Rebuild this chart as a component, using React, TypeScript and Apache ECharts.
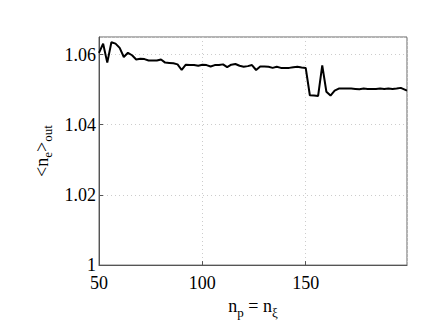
import React, { useEffect, useRef } from "react";
import * as echarts from "echarts";

const npValues = [
  50, 52, 54, 56, 58, 60, 62, 64, 66, 68, 70, 72, 74, 76, 78, 80, 82, 84, 86, 88,
  90, 92, 94, 96, 98, 100, 102, 104, 106, 108, 110, 112, 114, 116, 118, 120, 122, 124, 126, 128,
  130, 132, 134, 136, 138, 140, 142, 144, 146, 148, 150, 152, 154, 156, 158, 160, 162, 164, 166, 168,
  170, 172, 174, 176, 178, 180, 182, 184, 186, 188, 190, 192, 194, 196, 199,
];

const neOut = [
  1.0605, 1.0631, 1.0577, 1.0635, 1.0631, 1.0619, 1.0593, 1.0605, 1.0598, 1.0586,
  1.0588, 1.0587, 1.0583, 1.0583, 1.0583, 1.0586, 1.0577, 1.0576, 1.0575, 1.0572,
  1.0556, 1.0571, 1.057, 1.057, 1.0568, 1.0571, 1.057, 1.0566, 1.057, 1.057,
  1.0572, 1.0564, 1.0571, 1.0573, 1.0568, 1.0565, 1.0567, 1.057, 1.0556, 1.0566,
  1.0566, 1.0565, 1.0562, 1.0565, 1.0562, 1.0562, 1.0562, 1.0564, 1.0565, 1.0563,
  1.0562, 1.0484, 1.0483, 1.0482, 1.0569, 1.0494, 1.0483, 1.0497, 1.0503, 1.0503,
  1.0503, 1.0503, 1.0502, 1.0501, 1.0503, 1.0502, 1.0502, 1.0502, 1.0503, 1.0502,
  1.0503, 1.0502, 1.0503, 1.0505, 1.0497,
];

const xTicks = [50, 100, 150];
const yTicks = [1, 1.02, 1.04, 1.06];

const FONT = "'Liberation Serif', 'DejaVu Serif', serif";

export default function App() {
  const ref = useRef<HTMLDivElement>(null);
  useEffect(() => {
    if (!ref.current) return;
    const chart = echarts.init(ref.current, undefined, { renderer: "svg" });
    const data = npValues.map((x, i) => [x, neOut[i]]);
    chart.setOption({
      animation: false,
      backgroundColor: "#ffffff",
      textStyle: { fontFamily: FONT },
      grid: {
        left: 99,
        right: 25,
        top: 37,
        bottom: 57,
        show: true,
        borderColor: "#666666",
        borderWidth: 1,
        backgroundColor: "transparent",
      },
      xAxis: {
        type: "value",
        min: 50,
        max: 199,
        interval: 50,
        axisLine: { show: true, lineStyle: { color: "#555555", width: 1 } },
        axisTick: { show: true, inside: true, length: 4, lineStyle: { color: "#555555" } },
        axisLabel: {
          show: true,
          color: "#000",
          fontFamily: FONT,
          fontSize: 18,
          margin: 9,
          showMaxLabel: false,
          formatter: (v: number) => (xTicks.includes(v) ? String(v) : ""),
        },
        splitLine: { show: true, lineStyle: { color: "#cccccc", type: [1, 3], width: 1 } },
        name: "{n|n}{s|p}{n| = n}{s|ξ}",
        nameLocation: "middle",
        nameGap: 25,
        nameTextStyle: {
          rich: {
            n: { fontFamily: FONT, fontSize: 18, color: "#000", verticalAlign: "top", lineHeight: 20 },
            s: { fontFamily: FONT, fontSize: 13, color: "#000", verticalAlign: "top", padding: [9, 0, 0, 0], lineHeight: 20 },
          },
        },
      },
      yAxis: {
        type: "value",
        min: 1,
        max: 1.065,
        interval: 0.02,
        axisLine: { show: true, lineStyle: { color: "#555555", width: 1 } },
        axisTick: { show: true, inside: true, length: 4, lineStyle: { color: "#555555" } },
        axisLabel: {
          show: true,
          color: "#000",
          fontFamily: FONT,
          fontSize: 18,
          margin: 3,
          showMaxLabel: false,
          formatter: (v: number) => {
            const t = yTicks.find((y) => Math.abs(y - v) < 1e-9);
            if (t === undefined) return "";
            return t === 1 ? "1" : t.toFixed(2);
          },
        },
        splitLine: { show: true, lineStyle: { color: "#cccccc", type: [1, 3], width: 1 } },
        name: "{n|<n}{s|e}{n|>}{s|out}",
        nameLocation: "middle",
        nameGap: 46,
        nameRotate: 90,
        nameTextStyle: {
          rich: {
            n: { fontFamily: FONT, fontSize: 18, color: "#000", lineHeight: 20 },
            s: { fontFamily: FONT, fontSize: 13, color: "#000", padding: [10, 0, 0, 0], lineHeight: 20 },
          },
        },
      },
      series: [
        {
          type: "line",
          data,
          symbol: "none",
          lineStyle: { color: "#000000", width: 2 },
          clip: true,
        },
      ],
    });
    return () => chart.dispose();
  }, []);
  return (
    <div
      ref={ref}
      style={{ position: "fixed", left: 0, top: 0, width: 432, height: 324, background: "#fff" }}
    />
  );
}
